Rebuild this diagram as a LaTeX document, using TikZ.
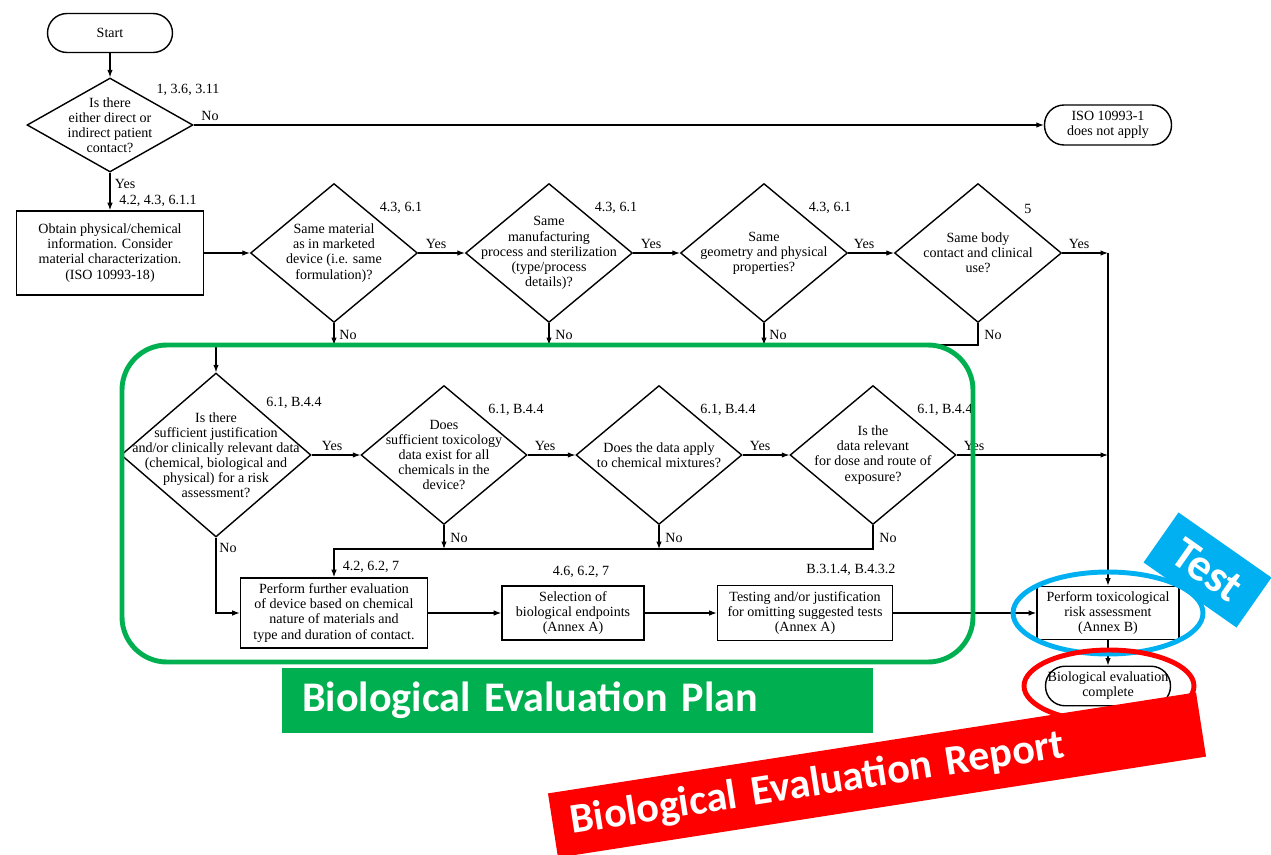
\documentclass[tikz,border=0pt]{standalone}
\usepackage{fontspec}
\setmainfont{Liberation Serif}
\newfontfamily\bannerfont{Carlito}
\usetikzlibrary{arrows.meta,shapes.geometric}
\definecolor{planGreen}{RGB}{0,176,80}
\definecolor{testBlue}{RGB}{0,176,240}
\definecolor{reportRed}{RGB}{255,0,0}
\newcommand{\flowfont}{\fontsize{8}{8.6}\selectfont}
\newcommand{\bannerbig}{\bannerfont\bfseries\fontsize{24}{26}\selectfont}
\newcommand{\bannertest}{\bannerfont\bfseries\fontsize{26}{28}\selectfont}

\begin{document}
\begin{tikzpicture}[x=0.02cm, y=-0.02cm, >={Latex[length=1.5mm,width=1.1mm]}, font=\flowfont, line width=0.6pt]
  \tikzstyle{term}=[draw, rounded corners=0.39cm, minimum width=2.5cm, minimum height=0.78cm, align=center, inner xsep=1pt, line width=0.8pt]
  \tikzstyle{proc}=[draw, rectangle, align=center, inner sep=0pt, line width=0.9pt]
  \tikzstyle{dec}=[draw, diamond, inner sep=0pt, minimum width=3.34cm, minimum height=2.78cm, line width=0.8pt]
  \tikzstyle{dtext}=[align=center, inner sep=0pt]
  \tikzstyle{refno}=[inner sep=0pt]
  \tikzstyle{answer}=[inner sep=0pt]
  \tikzstyle{banner}=[text=white, font=\bannerbig, inner ysep=0pt, minimum height=1.3cm, align=left]

  \useasboundingbox (0,0) rectangle (1271,855);
  \clip (0,0) rectangle (1271,855);

  \node[term] (start) at (110,33) {Start};
  \node[dec, minimum width=3.32cm, minimum height=1.88cm] (d1) at (110,125) {};
  \node[dtext] (d1t) at (d1) {Is there\\either direct or\\indirect patient\\contact?};
  \node[term, minimum width=2.54cm, minimum height=0.8cm] (iso) at (1108,125) {ISO 10993-1\\does not apply};
  \node[proc, minimum width=3.74cm, minimum height=1.68cm] (box1) at (110,253) {Obtain physical/chemical\\information. Consider\\material characterization.\\(ISO 10993-18)};

  \node[dec] (d2) at (334,253) {};
  \node[dtext] (d2t) at (d2) {Same material\\as in marketed\\device (i.e. same\\formulation)?};
  \node[dec] (d3) at (549,253) {};
  \node[dtext] (d3t) at (d3) {Same\\manufacturing\\process and sterilization\\(type/process\\details)?};
  \node[dec] (d4) at (764,253) {};
  \node[dtext] (d4t) at (d4) {Same\\geometry and physical\\properties?};
  \node[dec] (d5) at (978,253) {};
  \node[dtext] (d5t) at (d5) {Same body\\contact and clinical\\use?};

  \node[dec, minimum width=3.8cm, minimum height=3.28cm] (d6) at (216,455) {};
  \node[dtext] (d6t) at (d6) {Is there\\sufficient justification\\and/or clinically relevant data\\(chemical, biological and\\physical) for a risk\\assessment?};
  \node[dec, minimum width=3.32cm] (d7) at (444,455) {};
  \node[dtext] (d7t) at (d7) {Does\\sufficient toxicology\\data exist for all\\chemicals in the\\device?};
  \node[dec, minimum width=3.32cm] (d8) at (659,455) {};
  \node[dtext] (d8t) at (d8) {Does the data apply\\to chemical mixtures?};
  \node[dec, minimum width=3.32cm] (d9) at (873,455) {};
  \node[dtext] (d9t) at (d9) {Is the\\data relevant\\for dose and route of\\exposure?};

  \node[proc, minimum width=3.74cm, minimum height=1.4cm] (box2) at (334,613) {Perform further evaluation\\of device based on chemical\\nature of materials and\\type and duration of contact.};
  \node[proc, minimum width=2.84cm, minimum height=1.08cm] (box3) at (573,613) {Selection of\\biological endpoints\\(Annex A)};
  \node[proc, minimum width=3.5cm, minimum height=1.1cm] (box4) at (805,613) {Testing and/or justification\\for omitting suggested tests\\(Annex A)};
  \node[proc, minimum width=2.84cm, minimum height=1.06cm] (box5) at (1108,613) {Perform toxicological\\risk assessment\\(Annex B)};
  \node[term] (done) at (1108,686) {Biological evaluation\\complete};

  \node[refno] (r1) at (188,90) {1, 3.6, 3.11};
  \node[refno] (r2) at (158,201) {4.2, 4.3, 6.1.1};
  \node[refno] (r3) at (401,208) {4.3, 6.1};
  \node[refno] (r4) at (616,208) {4.3, 6.1};
  \node[refno] (r5) at (830,208) {4.3, 6.1};
  \node[refno] (r6) at (1028,209) {5};
  \node[refno] (r7) at (294,403) {6.1, B.4.4};
  \node[refno] (r8) at (516,410) {6.1, B.4.4};
  \node[refno] (r9) at (728,410) {6.1, B.4.4};
  \node[refno] (r10) at (945,410) {6.1, B.4.4};
  \node[refno] (r11) at (371,567) {4.2, 6.2, 7};
  \node[refno] (r12) at (581,572) {4.6, 6.2, 7};
  \node[refno] (r13) at (851,570) {B.3.1.4, B.4.3.2};

  \node[answer] (n1) at (210,116) {No};
  \node[answer] (y1) at (125,184) {Yes};
  \node[answer] (y2) at (436,244) {Yes};
  \node[answer] (y3) at (651,244) {Yes};
  \node[answer] (y4) at (864,244) {Yes};
  \node[answer] (y5) at (1079,244) {Yes};
  \node[answer] (n2) at (348,335) {No};
  \node[answer] (n3) at (564,335) {No};
  \node[answer] (n4) at (778,335) {No};
  \node[answer] (n5) at (993,335) {No};
  \node[answer] (y6) at (332,446) {Yes};
  \node[answer] (y7) at (545,446) {Yes};
  \node[answer] (y8) at (760,446) {Yes};
  \node[answer] (y9) at (974,446) {Yes};
  \node[answer] (n6) at (228,548) {No};
  \node[answer] (n7) at (459,538) {No};
  \node[answer] (n8) at (674,538) {No};
  \node[answer] (n9) at (888,538) {No};

  \coordinate (yes5) at (1108,253);
  \coordinate (yes9) at (1108,455);
  \coordinate (norow) at (0,345);
  \coordinate (norow2) at (0,549);

  \draw[->] (start) -- (d1);
  \draw[->] (d1) -- (iso);
  \draw[->] (d1) -- (box1);
  \draw[->] (box1) -- (d2);
  \draw[->] (d2) -- (d3);
  \draw[->] (d3) -- (d4);
  \draw[->] (d4) -- (d5);
  \draw[->] (d5) -- (yes5);
  \draw[->] (yes5) -- (box5);
  \draw[->] (d2) -- (d2 |- norow);
  \draw[->] (d3) -- (d3 |- norow);
  \draw[->] (d4) -- (d4 |- norow);
  \draw[->] (d5.south) -- (d5 |- norow) -| (d6.north);
  \draw[->] (d6) -- (d7);
  \draw[->] (d7) -- (d8);
  \draw[->] (d8) -- (d9);
  \draw[->] (d9) -- (yes9);
  \draw[->] (d6.south) |- (box2.west);
  \draw[->] (d7) -- (d7 |- norow2);
  \draw[->] (d8) -- (d8 |- norow2);
  \draw[->] (d9.south) -- (d9 |- norow2) -| (box2.north);
  \draw[->] (box2) -- (box3);
  \draw[->] (box3) -- (box4);
  \draw[->] (box4) -- (box5);
  \draw[->] (box5) -- (done);

  \draw[planGreen, line width=2.8pt, rounded corners=0.9cm] (122,345) rectangle (973,662);
  \node[banner, fill=planGreen, text width=11.02cm, inner xsep=0.4cm] (plan) at (577.5,700.5) {Biological Evaluation Plan};
  \draw[testBlue, line width=2.8pt] (1108,613) ellipse [x radius=1.9cm, y radius=0.82cm];
  \node[banner, fill=testBlue, font=\bannertest, rotate=-35, minimum width=2.27cm, minimum height=1.22cm, align=center] (test) at (1207.5,570) {Test};
  \draw[reportRed, line width=2.8pt] (1109,686) ellipse [x radius=1.7cm, y radius=0.72cm];
  \node[banner, fill=reportRed, rotate=8.86, text width=12.4cm, inner xsep=0.36cm] (report) at (877,775) {Biological Evaluation Report};
\end{tikzpicture}
\end{document}
